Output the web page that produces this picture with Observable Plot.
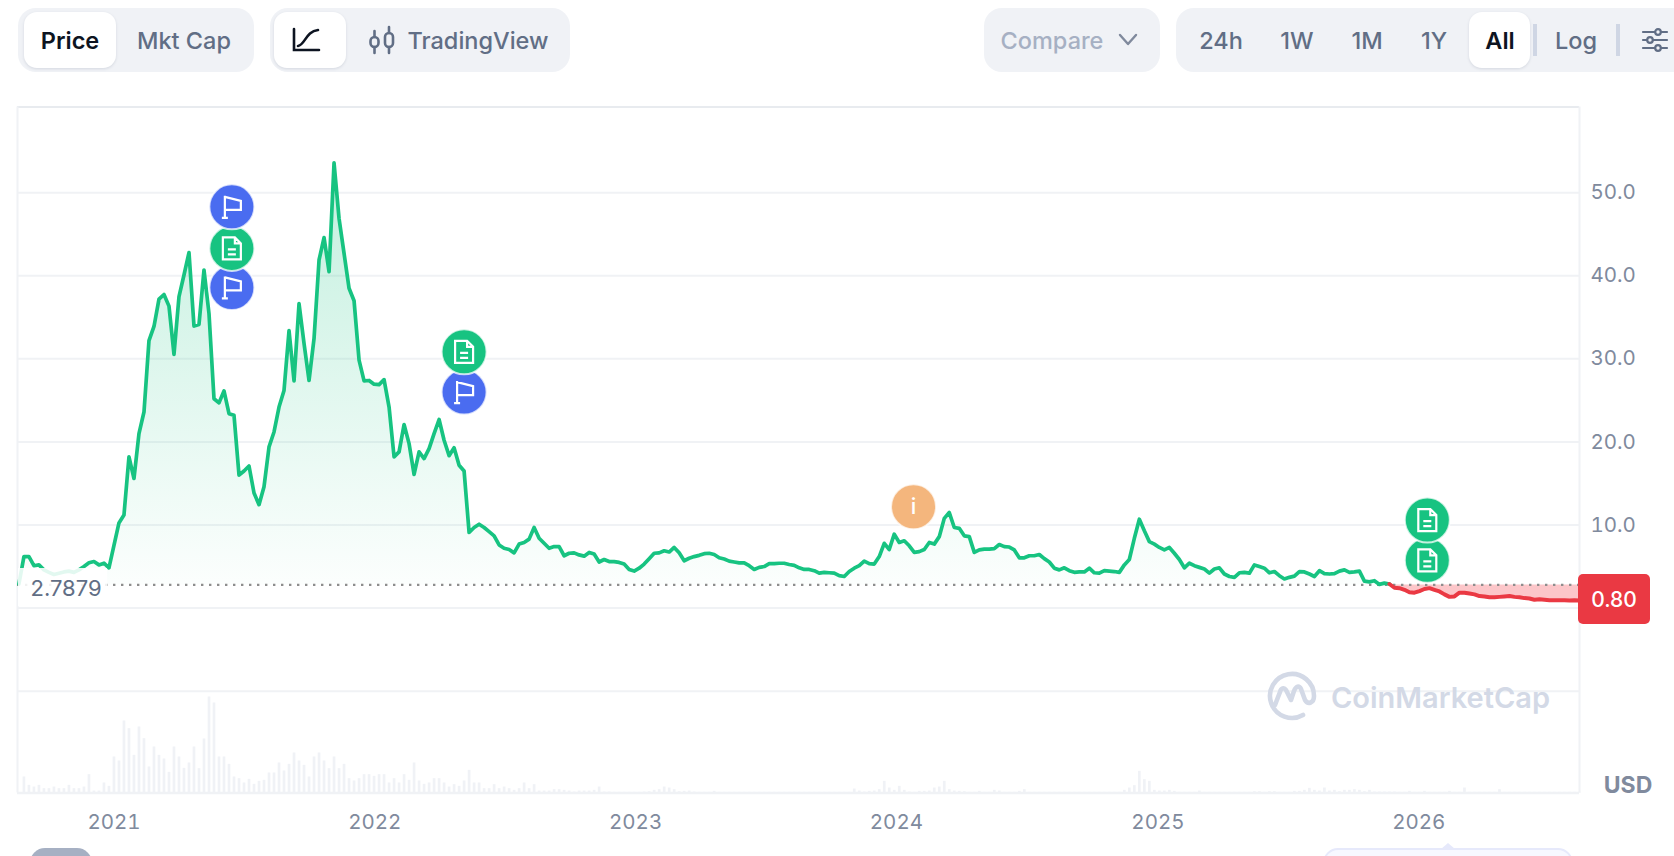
<!DOCTYPE html>
<html>
<head>
<meta charset="utf-8">
<script src="https://cdn.jsdelivr.net/npm/d3@7"></script>
<script src="https://cdn.jsdelivr.net/npm/@observablehq/plot@0.6"></script>
<style>
html,body{margin:0;padding:0;background:#fff;width:1674px;height:856px;overflow:hidden;font-family:Inter,"Noto Sans",sans-serif;}
#page{position:relative;width:1674px;height:856px;overflow:hidden;}
#chart{position:absolute;left:0;top:0;}
#chart svg{display:block;}
.group{position:absolute;top:8px;height:64px;background:#f0f2f6;border-radius:18px;}
.active{position:absolute;top:12px;height:56px;background:#fff;border-radius:13px;box-shadow:0 1px 3px rgba(88,102,126,.18);}
.t{position:absolute;transform:translate(-50%,-50%);top:39.5px;font-size:23.5px;font-weight:500;color:#616e85;white-space:nowrap;}
.t.on{color:#0d1421;font-weight:600;}
.sep{position:absolute;top:24px;height:32px;width:4px;background:#cfd6e4;}
.ic{position:absolute;overflow:visible;}
#chip{position:absolute;left:18px;top:568px;width:89px;height:38px;background:rgba(255,255,255,.88);}
#chipT{position:absolute;left:66px;top:588px;transform:translate(-50%,-50%);font-size:22px;color:#616e85;}
#last{position:absolute;left:1578px;top:574px;width:72px;height:50px;background:#ea3943;border-radius:5px;color:#fff;font-size:21px;font-weight:500;display:flex;align-items:center;justify-content:center;}
#usd{position:absolute;left:1628px;top:785px;transform:translate(-50%,-50%);font-size:23px;font-weight:700;color:#808a9d;}
#wm{position:absolute;left:1331px;top:697px;transform:translateY(-50%);font-size:29px;font-weight:600;color:#d3d9e6;white-space:nowrap;}
#b1{position:absolute;left:30px;top:848px;width:62px;height:30px;background:#a6b0c3;border-radius:16px;}
#b2{position:absolute;left:1323px;top:848px;width:250px;height:30px;background:#f7f8ff;border:2px solid #e6e9fb;border-radius:16px;box-sizing:border-box;}
#b3{position:absolute;left:1441px;top:843px;width:0;height:0;border-left:7px solid transparent;border-right:7px solid transparent;border-bottom:6px solid #e6e9fb;}
</style>
</head>
<body>
<div id="page">
  <div id="chart"></div>

  <div class="group" style="left:18px;width:236px"></div>
  <div class="active" style="left:24px;width:92px"></div>
  <span class="t on" style="left:70px">Price</span>
  <span class="t" style="left:184px">Mkt Cap</span>

  <div class="group" style="left:270px;width:300px"></div>
  <div class="active" style="left:274px;width:72px"></div>
  <svg class="ic" style="left:292px;top:27px" width="28" height="26" viewBox="0 0 28 26" fill="none" stroke="#0d1421" stroke-width="2.6" stroke-linecap="round">
    <path d="M2 2V23H27"/><path d="M6 19C13 18 14 4 26 3"/>
  </svg>
  <svg class="ic" style="left:369px;top:27px" width="26" height="26" viewBox="0 0 26 26" fill="none" stroke="#616e85" stroke-width="2.6" stroke-linecap="round">
    <rect x="1.5" y="10" width="8" height="10" rx="4"/><path d="M5.5 4V10M5.5 20V26"/>
    <rect x="16" y="6" width="8" height="14" rx="4"/><path d="M20 0V6M20 20V26"/>
  </svg>
  <span class="t" style="left:478px">TradingView</span>

  <div class="group" style="left:984px;width:176px"></div>
  <span class="t" style="left:1052px;color:#a6b0c3">Compare</span>
  <svg class="ic" style="left:1118px;top:33px" width="20" height="14" viewBox="0 0 20 14" fill="none" stroke="#808a9d" stroke-width="2.4" stroke-linecap="round" stroke-linejoin="round"><path d="M2 2L10 11L18 2"/></svg>

  <div class="group" style="left:1176px;width:520px"></div>
  <div class="active" style="left:1469px;width:61px"></div>
  <span class="t" style="left:1221px">24h</span>
  <span class="t" style="left:1297px">1W</span>
  <span class="t" style="left:1367px">1M</span>
  <span class="t" style="left:1434px">1Y</span>
  <span class="t on" style="left:1500px">All</span>
  <div class="sep" style="left:1533px"></div>
  <span class="t" style="left:1576px">Log</span>
  <div class="sep" style="left:1616px"></div>
  <svg class="ic" style="left:1642px;top:28px" width="26" height="24" viewBox="0 0 26 24" fill="none" stroke="#616e85" stroke-width="2.2" stroke-linecap="round">
    <path d="M1 4H13M19 4H25M1 12H5M11 12H25M1 20H13M19 20H25"/>
    <circle cx="16" cy="4" r="2.8"/><circle cx="8" cy="12" r="2.8"/><circle cx="16" cy="20" r="2.8"/>
  </svg>

  <div id="chip"></div>
  <div id="chipT">2.7879</div>
  <div id="last">0.80</div>
  <div id="usd">USD</div>

  <svg class="ic" style="left:1268px;top:672px" width="48" height="50" viewBox="0 0 48 50" fill="none" stroke="#d3d9e6" stroke-width="4.6" stroke-linecap="round" stroke-linejoin="round">
    <path d="M35 43A22 22 0 1 1 46 24C46 31 40 33 37 28L33 17C31 13 28 14 26 19L23 28L18 18C16 15 13 16 12 20L7 33"/>
  </svg>
  <div id="wm">CoinMarketCap</div>

  <div id="b1"></div>
  <div id="b3"></div>
  <div id="b2"></div>
</div>

<script>
const startDate = "2020-08-21";
const baseline = 2.7879;
const lastPrice = 0.80;

const prices = [
2.9,6.2,6.2,5.1,5.2,4.6,4.3,4.05,4.2,4.35,
4.45,4.3,4.6,5.0,5.45,5.6,5.2,5.4,4.85,7.55,
10.25,11.2,18.2,15.6,21.0,23.6,32.2,33.9,37.2,37.75,
36.35,30.55,37.5,40.1,42.8,33.95,34.15,40.7,35.45,25.2,
24.7,26.15,23.4,23.2,16.0,16.5,17.1,13.85,12.45,14.6,
19.4,21.2,24.2,26.2,33.4,27.35,36.65,31.85,27.4,32.45,
41.9,44.6,40.5,53.6,46.9,42.7,38.5,37.0,29.85,27.35,
27.4,26.95,26.9,27.5,24.2,18.2,18.8,22.1,19.8,16.1,
18.8,18.0,19.2,21.0,22.7,20.2,18.35,19.3,17.2,16.5,
9.1,9.7,10.1,9.7,9.2,8.7,7.6,7.2,7.05,6.65,
7.7,7.9,8.3,9.7,8.4,7.8,7.2,7.4,7.4,6.3,
6.6,6.65,6.4,6.25,6.7,6.5,5.55,5.85,5.6,5.6,
5.5,5.3,4.65,4.45,4.8,5.3,5.95,6.6,6.65,6.9,
6.75,7.3,6.65,5.7,6.0,6.2,6.35,6.55,6.6,6.45,
6.05,5.9,5.65,5.55,5.45,5.45,5.1,4.65,4.9,5.0,
5.35,5.35,5.4,5.4,5.25,5.15,4.85,4.65,4.65,4.5,
4.2,4.3,4.25,4.2,3.9,3.8,4.4,4.8,5.1,5.65,
5.35,5.3,6.2,7.8,7.05,8.9,7.9,8.1,7.5,6.7,
6.8,7.05,7.9,7.7,8.6,10.8,11.5,9.7,9.6,8.7,
8.6,6.7,7.0,7.1,7.1,7.15,7.65,7.4,7.35,7.0,
6.05,6.05,6.3,6.3,6.45,5.95,5.55,4.8,4.6,4.85,
4.5,4.3,4.35,4.35,4.8,4.25,4.2,4.5,4.45,4.4,
4.3,5.2,5.85,8.4,10.7,9.3,8.0,7.7,7.3,7.0,
7.3,6.6,5.85,4.85,5.4,5.1,4.9,4.7,4.2,4.7,
4.85,4.1,3.8,3.7,4.25,4.3,4.2,5.2,5.0,4.8,
4.25,4.4,3.9,3.5,3.7,3.85,4.4,4.35,4.1,3.8,
4.5,4.15,4.1,4.15,4.45,4.6,4.3,4.35,4.45,3.25,
3.15,3.3,2.85,3.0,2.9,2.45,2.4,2.2,1.9,1.85,
2.05,2.3,2.4,2.2,2.0,1.65,1.35,1.4,1.85,1.85,
1.75,1.65,1.45,1.4,1.3,1.3,1.35,1.4,1.45,1.35,
1.3,1.2,1.15,1.0,1.05,1.0,.95,.95,.95,.95,
.9,.95,.9];

const volumes = [
0,48,23,18,23,13,13,18,13,13,
23,13,13,18,55,6,6,30,20,108,
96,216,193,113,198,163,78,138,113,102,
62,138,108,74,90,138,73,162,288,270,
108,108,86,48,43,30,41,26,35,38,
60,60,90,66,86,120,96,83,48,108,
120,96,73,108,73,86,43,36,43,55,
55,50,55,55,30,43,30,55,38,90,
36,26,30,43,43,30,18,25,20,36,
68,30,30,13,13,25,13,18,13,8,
13,30,13,25,6,6,6,10,10,8,
6,3,6,6,6,8,18,3,3,2,
2,2,2,2,2,3,4,8,10,18,
15,10,4,5,6,3,2,2,2,5,
2,2,2,2,2,2,2,2,2,2,
2,2,2,2,2,2,2,2,2,2,
2,2,2,2,2,2,2,12,6,3,
5,6,10,35,15,8,20,8,3,2,
5,5,6,15,18,35,10,6,5,4,
2,2,5,2,2,8,6,2,2,2,
5,10,2,2,2,2,2,2,2,2,
2,2,2,2,2,2,2,2,2,2,
2,8,15,22,65,40,35,8,6,6,
8,5,2,2,2,2,6,2,2,2,
2,2,2,2,2,2,2,4,4,2,
4,4,2,2,2,5,5,8,14,8,
6,15,6,8,4,8,8,10,8,4,
8,3,3,3,3,3,2,2,5,2,
2,5,2,2,2,2,5,2,2,15,
2,2,2,2,2,2,10,2,2,2,
2,2,2,2,2,2,2,2,2,2,
2,2,2];

const priceTicks = [10, 20, 30, 40, 50];
const gridValues = [-10, 0, 10, 20, 30, 40, 50];
const yearTicks = ["2021-01-01","2022-01-01","2023-01-01","2024-01-01","2025-01-01","2026-01-01"];

const eventDates  = ["2021-06-15","2021-06-15","2021-06-15","2022-05-06","2022-05-06","2026-01-13","2026-01-13"];
const eventLevels = [38.6,43.3,48.3,26.0,30.85,5.75,10.6];
const eventKinds  = ["flag","doc","flag","flag","doc","doc","doc"];
const infoDates   = ["2024-01-25"];
const infoLevels  = [12.2];

const xDomain = ["2020-08-19","2026-08-14"];
const yDomain = [-22.26, 60.32];

const green = "#17c381", red = "#ea3943", blue = "#4a6cf0", orange = "#f4b67d", grid = "#f0f2f5";
const eventColor = {flag: blue, doc: green};

const t0 = new Date(startDate + "T00:00:00Z").getTime();
const rows = prices.map((v, i) => ({date: new Date(t0 + i * 7 * 864e5), v, vol: volumes[i] ?? 0}));
let cross = rows.length - 1;
while (cross > 0 && rows[cross].v < baseline) cross--;
const upRows = rows.slice(0, cross + 1);
const downRows = rows.slice(cross);

const volBase = yDomain[0];
const volUnit = 11.56 / 288;

const events = eventDates.map((d, i) => ({date: new Date(d), level: eventLevels[i], kind: eventKinds[i]}));
const infos = infoDates.map((d, i) => ({date: new Date(d), level: infoLevels[i]}));

const flagSymbol = {draw(c) {
  c.moveTo(-7, -11); c.lineTo(-7, 11);
  c.moveTo(-10, 11); c.lineTo(-4, 11);
  c.moveTo(-7, -10); c.lineTo(9, -6); c.lineTo(9, 3); c.lineTo(-7, 3);
}};
const docSymbol = {draw(c) {
  c.moveTo(-9, -11); c.lineTo(3, -11); c.lineTo(9, -5); c.lineTo(9, 11); c.lineTo(-9, 11); c.closePath();
  c.moveTo(3, -11); c.lineTo(3, -5); c.lineTo(9, -5);
  c.moveTo(-4, 1); c.lineTo(4, 1);
  c.moveTo(-4, 6); c.lineTo(4, 6);
}};

const gradient = () => {
  const defs = d3.create("svg:defs");
  const g = defs.append("linearGradient").attr("id", "upFill").attr("x1", 0).attr("x2", 0).attr("y1", 0).attr("y2", 1);
  g.append("stop").attr("offset", "0").attr("stop-color", green).attr("stop-opacity", 0.26);
  g.append("stop").attr("offset", "1").attr("stop-color", green).attr("stop-opacity", 0.015);
  return defs.node();
};

const marks = [
  gradient,
  Plot.ruleY(gridValues, {stroke: grid, strokeWidth: 2}),
  Plot.ruleY(yDomain.slice(1), {stroke: "#e8ebef", strokeWidth: 2}),
  Plot.ruleY(yDomain.slice(0, 1), {stroke: grid, strokeWidth: 2.5}),
  Plot.ruleX(xDomain.map(d => new Date(d)), {stroke: grid, strokeWidth: 2}),
  Plot.ruleX(rows, {x: "date", y1: () => volBase, y2: d => volBase + d.vol * volUnit, stroke: "#f0f2f6", strokeWidth: 2.7}),
  Plot.areaY(upRows, {x: "date", y1: () => baseline, y2: "v", fill: "url(#upFill)"}),
  Plot.areaY(downRows, {x: "date", y1: () => baseline, y2: "v", fill: "#fcc6c9"}),
  Plot.ruleY([baseline], {stroke: "#8d8d8d", strokeWidth: 2.4, strokeDasharray: "2.4 5.6"}),
  Plot.lineY(upRows, {x: "date", y: "v", stroke: green, strokeWidth: 3.7, strokeLinejoin: "round"}),
  Plot.lineY(downRows, {x: "date", y: "v", stroke: red, strokeWidth: 4, strokeLinejoin: "round"}),
  Plot.axisY(priceTicks, {anchor: "right", label: null, tickSize: 0, tickPadding: 11, tickFormat: d3.format(".1f"), fontSize: 20.5, fill: "#808a9d"}),
  Plot.axisX(yearTicks.map(d => new Date(d)), {anchor: "bottom", label: null, tickSize: 0, tickPadding: 21, tickFormat: d3.utcFormat("%Y"), fontSize: 20.5, fill: "#808a9d"}),
  Plot.dot(events, {x: "date", y: "level", r: 22.5, fill: d => eventColor[d.kind], stroke: "rgba(255,255,255,.75)", strokeWidth: 2}),
  Plot.dot(events.filter(d => d.kind === "flag"), {x: "date", y: "level", r: 10, symbol: flagSymbol, fill: "none", stroke: "#fff", strokeWidth: 2.2}),
  Plot.dot(events.filter(d => d.kind === "doc"), {x: "date", y: "level", r: 10, symbol: docSymbol, fill: "none", stroke: "#fff", strokeWidth: 2.2}),
  Plot.dot(infos, {x: "date", y: "level", r: 22.5, fill: orange, stroke: "rgba(255,255,255,.75)", strokeWidth: 2}),
  Plot.text(infos, {x: "date", y: "level", text: () => "i", fill: "#fff", fontSize: 22, fontWeight: 500})
];

const chart = Plot.plot({
  width: 1674,
  height: 856,
  marginLeft: 17,
  marginRight: 95,
  marginTop: 106.5,
  marginBottom: 63.5,
  style: {fontFamily: "Inter, sans-serif", background: "transparent", overflow: "visible"},
  x: {type: "utc", domain: xDomain.map(d => new Date(d)), axis: null},
  y: {domain: yDomain, axis: null},
  marks
});
document.getElementById("chart").appendChild(chart);
</script>
</body>
</html>
